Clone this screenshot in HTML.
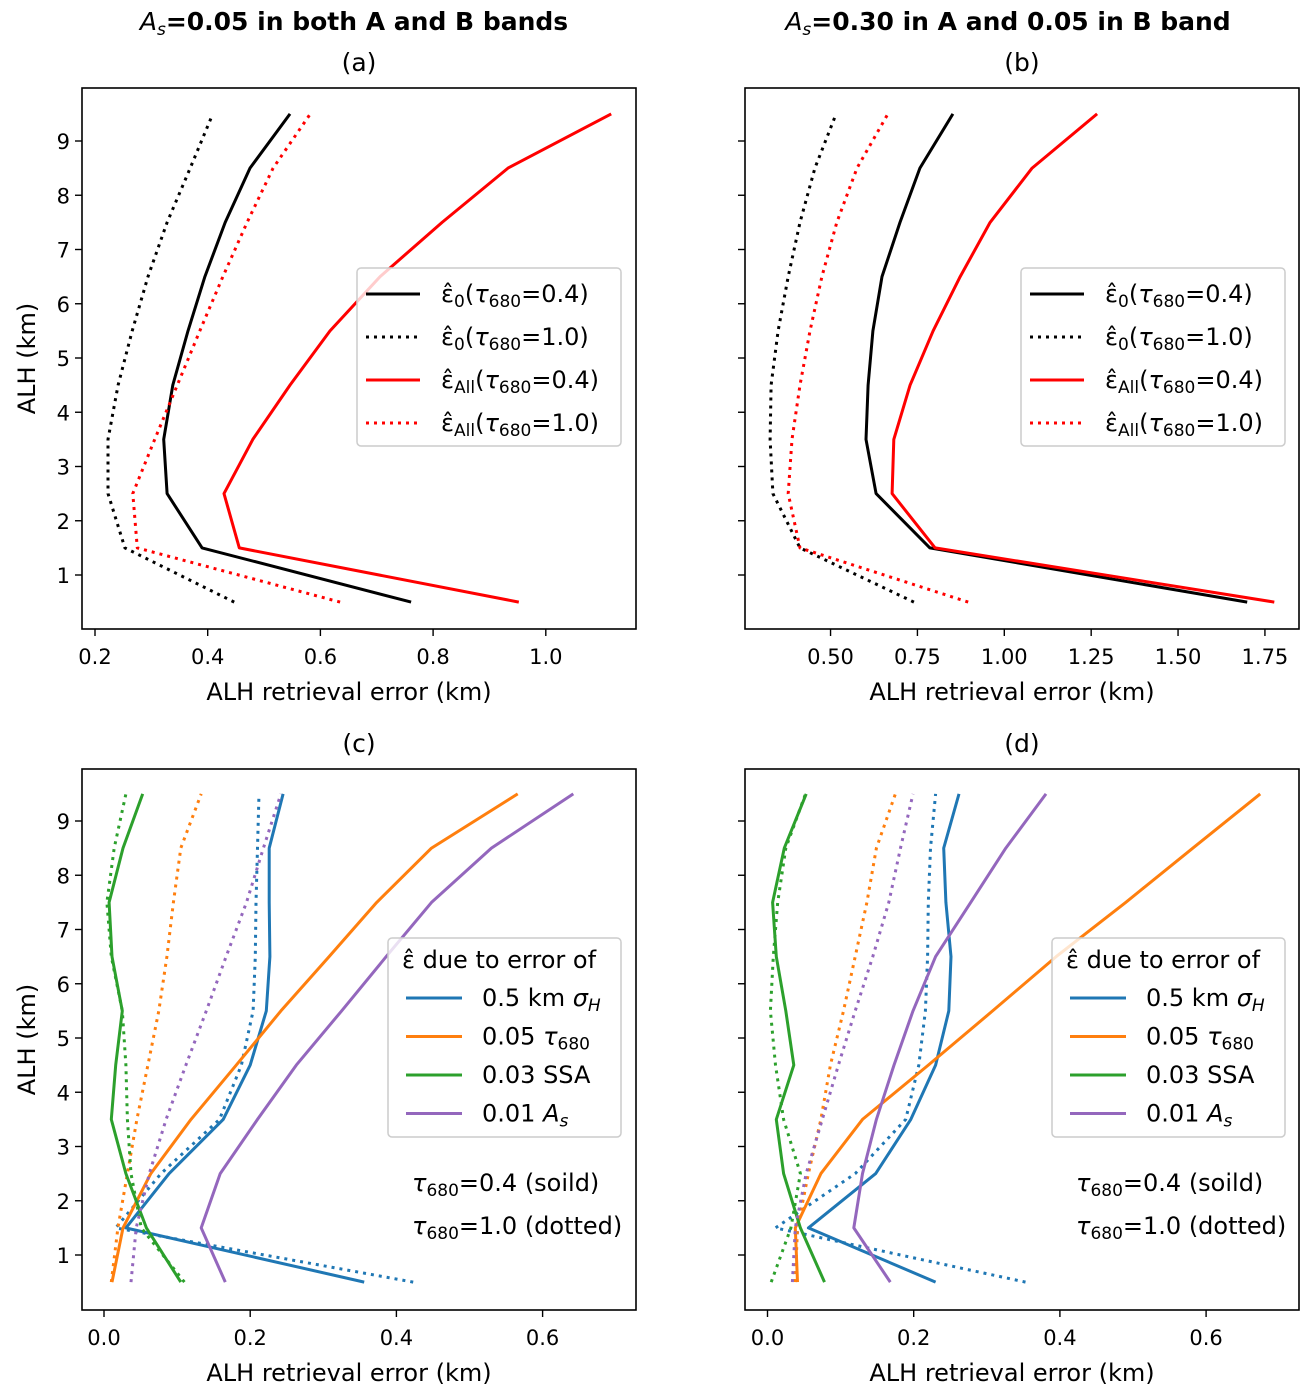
<!DOCTYPE html>
<html><head><meta charset="utf-8"><style>
html,body{margin:0;padding:0;background:#fff;}
svg{display:block;font-family:"DejaVu Sans","Liberation Sans",sans-serif;}
</style></head><body>
<svg id="fig" width="1312" height="1397" viewBox="0 0 1312 1397" xmlns="http://www.w3.org/2000/svg"></svg>
<script>
const heights = [0.5,1.5,2.5,3.5,4.5,5.5,6.5,7.5,8.5,9.5];
const yTicks = [1,2,3,4,5,6,7,8,9];
// panel a
const aBlackSolid = [.761,.390,.328,.322,.338,.365,.395,.431,.475,.546];
const aBlackDot = [.447,.253,.223,.223,.241,.266,.294,.328,.369,.409];
const aRedSolid = [.952,.456,.429,.480,.546,.617,.706,.816,.933,1.116];
const aRedDot = [.635,.275,.267,.306,.346,.386,.427,.470,.516,.582];
const aTicks = [0.2,0.4,0.6,0.8,1.0];
const aTickLabels = ["0.2","0.4","0.6","0.8","1.0"];
// panel b
const bBlackSolid = [1.699,.786,.631,.602,.608,.622,.648,.700,.757,.852];
const bBlackDot = [.740,.412,.334,.326,.329,.349,.378,.412,.455,.516];
const bRedSolid = [1.777,.801,.677,.682,.729,.795,.873,.959,1.080,1.267];
const bRedDot = [.896,.412,.378,.389,.412,.441,.475,.518,.576,.665];
const bTicks = [0.5,0.75,1.0,1.25,1.5,1.75];
const bTickLabels = ["0.50","0.75","1.00","1.25","1.50","1.75"];
// panel c
const cBlueSolid = [.356,.03,.089,.163,.2,.222,.227,.226,.226,.245];
const cBlueDot = [.423,.016,.078,.158,.188,.204,.207,.208,.21,.212];
const cOrangeSolid = [.011,.026,.064,.119,.181,.242,.308,.373,.448,.566];
const cOrangeDot = [.01,.019,.032,.045,.06,.075,.086,.095,.105,.133];
const cGreenSolid = [.105,.058,.03,.01,.016,.025,.011,.007,.026,.053];
const cGreenDot = [.11,.051,.037,.032,.03,.025,.01,.004,.014,.03];
const cPurpleSolid = [.166,.133,.159,.21,.263,.325,.386,.448,.53,.642];
const cPurpleDot = [.037,.044,.062,.085,.112,.14,.167,.195,.218,.242];
// panel d
const dBlueSolid = [.23,.056,.148,.196,.23,.248,.251,.244,.241,.262];
const dBlueDot = [.353,.011,.12,.189,.207,.216,.219,.22,.223,.23];
const dOrangeSolid = [.041,.038,.073,.13,.22,.308,.395,.49,.582,.674];
const dOrangeDot = [.038,.041,.056,.073,.086,.104,.12,.136,.149,.175];
const dGreenSolid = [.078,.045,.022,.012,.036,.025,.012,.007,.023,.053];
const dGreenDot = [.005,.032,.045,.022,.011,.004,.008,.014,.025,.052];
const dPurpleSolid = [.168,.118,.13,.149,.173,.199,.23,.278,.326,.381];
const dPurpleDot = [.034,.038,.053,.075,.097,.12,.144,.166,.182,.199];
const cdTicks = [0,0.2,0.4,0.6];
const cdTickLabels = ["0.0","0.2","0.4","0.6"];

const NS="http://www.w3.org/2000/svg";
const svg=document.getElementById('fig');
function mk(tag,attrs,parent){const e=document.createElementNS(NS,tag);for(const k in attrs)e.setAttribute(k,attrs[k]);(parent||svg).appendChild(e);return e;}

function panel(p){
  const g=mk('g',{});
  
  
  const L=p.left,T=p.top,W=554,H=541;
  const xs=v=>p.x0px+v*p.pxPerUnit;
  const ys=v=>p.y1px+(v-1)*(p.y9px-p.y1px)/8;
  p.series.forEach(s=>{
    const pts=s.data.map((v,i)=>xs(v).toFixed(1)+','+ys(heights[i]).toFixed(1)).join(' ');
    const pl=mk('polyline',{points:pts,fill:'none',stroke:s.color,'stroke-width':3,'stroke-linejoin':'round'},g);
    if(s.dot){pl.setAttribute('stroke-dasharray','3,5');}
    
    
  });
  const fr=mk('rect',{x:L,y:T,width:W,height:H,fill:'none',stroke:'#000','stroke-width':1.6},g);
  
  
  p.xticks.forEach((v,i)=>{
    const x=xs(v);
    mk('line',{x1:x,x2:x,y1:T+H,y2:T+H+7,stroke:'#000','stroke-width':1.4},g);
    const t=mk('text',{x:x,y:T+H+35,'text-anchor':'middle','font-size':21},g);
    t.textContent=p.xlabels[i];
    
    
  });
  yTicks.forEach(v=>{
    const y=ys(v);
    mk('line',{x1:L-7,x2:L,y1:y,y2:y,stroke:'#000','stroke-width':1.4},g);
    if(p.ylabels){
      const t=mk('text',{x:L-12,y:y+8,'text-anchor':'end','font-size':21},g);
      t.textContent=String(v);
      
      
    }
  });
  const xl=mk('text',{x:L+W/2-10,y:T+H+71,'text-anchor':'middle','font-size':24},g);
  xl.textContent='ALH retrieval error (km)';
  
  
  if(p.ylabels){
    const yl=mk('text',{x:0,y:0,'text-anchor':'middle','font-size':24,transform:`translate(35,${T+H/2}) rotate(-90)`},g);
    yl.textContent='ALH (km)';
    
    
  }
  const pt=mk('text',{x:L+W/2,y:T-17,'text-anchor':'middle','font-size':25},g);
  pt.textContent=p.label;
  
  
  return g;
}

function legendEps(g,L){
  const bx=L+276,by=268;
  const box=mk('rect',{x:bx,y:by,width:264,height:178,rx:4,fill:'#fff','fill-opacity':0.8,stroke:'#ccc','stroke-width':1.5},g);
  
  
  const items=[['#000',0,'0','0.4'],['#000',1,'0','1.0'],['#f00',0,'All','0.4'],['#f00',1,'All','1.0']];
  items.forEach((it,i)=>{
    const y=by+26+i*43;
    const ln=mk('line',{x1:bx+9,x2:bx+63,y1:y,y2:y,stroke:it[0],'stroke-width':3},g);
    if(it[1])ln.setAttribute('stroke-dasharray','3,5');
    const t=mk('text',{x:bx+84,y:y+8,'font-size':24},g);
    t.innerHTML=`<tspan>ε̂</tspan><tspan font-size="17" dy="5">${it[2]}</tspan><tspan dy="-5">(</tspan><tspan font-style="italic">τ</tspan><tspan font-size="17" dy="5">680</tspan><tspan dy="-5">=${it[3]})</tspan>`;
    
    
  });
}
function legendErr(g,L){
  const bx=L+307,by=938;
  const box=mk('rect',{x:bx,y:by,width:233,height:199,rx:4,fill:'#fff','fill-opacity':0.8,stroke:'#ccc','stroke-width':1.5},g);
  
  
  const tt=mk('text',{x:bx+14,y:by+30,'font-size':24},g);
  tt.textContent='ε̂ due to error of';
  
  
  const items=[['#1f77b4','0.5 km <tspan font-style="italic">σ</tspan><tspan font-style="italic" font-size="17" dy="5">H</tspan>'],
    ['#ff7f0e','0.05 <tspan font-style="italic">τ</tspan><tspan font-size="17" dy="5">680</tspan>'],
    ['#2ca02c','0.03 SSA'],
    ['#9467bd','0.01 <tspan font-style="italic">A</tspan><tspan font-style="italic" font-size="17" dy="5">s</tspan>']];
  items.forEach((it,i)=>{
    const y=by+60+i*38.5;
    mk('line',{x1:bx+18,x2:bx+74,y1:y,y2:y,stroke:it[0],'stroke-width':3},g);
    const t=mk('text',{x:bx+94,y:y+8,'font-size':24},g);
    t.innerHTML=it[1];
    
    
  });
  [['0.4 (soild)',1191],['1.0 (dotted)',1234]].forEach(a=>{
    const t=mk('text',{x:L+331,y:a[1],'font-size':24},g);
    t.innerHTML=`<tspan font-style="italic">τ</tspan><tspan font-size="17" dy="5">680</tspan><tspan dy="-5">=${a[0]}</tspan>`;
    
    
  });
}

const ga=panel({name:'panel-a',label:'(a)',left:82,top:88,x0px:-17.7,pxPerUnit:563.5,y1px:575,y9px:141,xticks:aTicks,xlabels:aTickLabels,ylabels:true,
  series:[{name:'eps0-tau04',data:aBlackSolid,color:'#000'},{name:'eps0-tau10',data:aBlackDot,color:'#000',dot:1},
          {name:'epsall-tau04',data:aRedSolid,color:'#f00'},{name:'epsall-tau10',data:aRedDot,color:'#f00',dot:1}]});
legendEps(ga,81);
const gb=panel({name:'panel-b',label:'(b)',left:745,top:88,x0px:656.8,pxPerUnit:347.5,y1px:575,y9px:141,xticks:bTicks,xlabels:bTickLabels,ylabels:false,
  series:[{name:'eps0-tau04',data:bBlackSolid,color:'#000'},{name:'eps0-tau10',data:bBlackDot,color:'#000',dot:1},
          {name:'epsall-tau04',data:bRedSolid,color:'#f00'},{name:'epsall-tau10',data:bRedDot,color:'#f00',dot:1}]});
legendEps(gb,745);
const gc=panel({name:'panel-c',label:'(c)',left:82,top:769,x0px:104,pxPerUnit:731,y1px:1255,y9px:821,xticks:cdTicks,xlabels:cdTickLabels,ylabels:true,
  series:[{name:'sigmaH-solid',data:cBlueSolid,color:'#1f77b4'},{name:'sigmaH-dotted',data:cBlueDot,color:'#1f77b4',dot:1},
          {name:'tau-solid',data:cOrangeSolid,color:'#ff7f0e'},{name:'tau-dotted',data:cOrangeDot,color:'#ff7f0e',dot:1},
          {name:'ssa-solid',data:cGreenSolid,color:'#2ca02c'},{name:'ssa-dotted',data:cGreenDot,color:'#2ca02c',dot:1},
          {name:'as-solid',data:cPurpleSolid,color:'#9467bd'},{name:'as-dotted',data:cPurpleDot,color:'#9467bd',dot:1}]});
legendErr(gc,81);
const gd=panel({name:'panel-d',label:'(d)',left:745,top:769,x0px:767.5,pxPerUnit:731,y1px:1255,y9px:821,xticks:cdTicks,xlabels:cdTickLabels,ylabels:false,
  series:[{name:'sigmaH-solid',data:dBlueSolid,color:'#1f77b4'},{name:'sigmaH-dotted',data:dBlueDot,color:'#1f77b4',dot:1},
          {name:'tau-solid',data:dOrangeSolid,color:'#ff7f0e'},{name:'tau-dotted',data:dOrangeDot,color:'#ff7f0e',dot:1},
          {name:'ssa-solid',data:dGreenSolid,color:'#2ca02c'},{name:'ssa-dotted',data:dGreenDot,color:'#2ca02c',dot:1},
          {name:'as-solid',data:dPurpleSolid,color:'#9467bd'},{name:'as-dotted',data:dPurpleDot,color:'#9467bd',dot:1}]});
legendErr(gd,745);

[[354,'0.05 in both A and B bands'],[1008,'0.30 in A and 0.05 in B band']].forEach(a=>{
  const t=mk('text',{x:a[0],y:30,'text-anchor':'middle','font-size':25,'font-weight':'bold'});
  t.innerHTML=`<tspan font-style="italic" font-weight="normal">A</tspan><tspan font-style="italic" font-weight="normal" font-size="17" dy="5">s</tspan><tspan dy="-5">=${a[1]}</tspan>`;
  
  
});
</script>
</body></html>
